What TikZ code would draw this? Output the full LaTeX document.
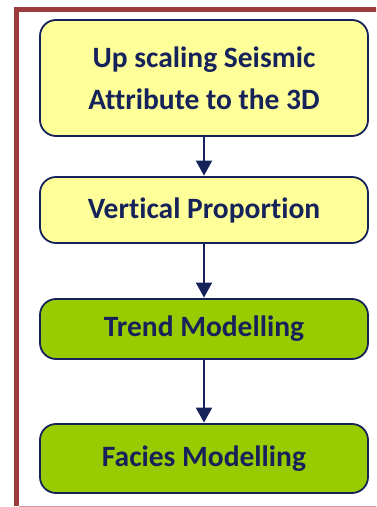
\documentclass[tikz,border=0pt]{standalone}
\usepackage{fontspec}
\setmainfont{Carlito}[Ligatures=NoCommon]
\usetikzlibrary{arrows.meta}
\definecolor{framered}{HTML}{9B3B3B}
\definecolor{framelight}{HTML}{D49A9A}
\definecolor{navy}{HTML}{16235A}
\definecolor{boxyellow}{HTML}{FFFF99}
\definecolor{boxgreen}{HTML}{99CC00}
\tikzset{
  procbox/.style={draw=navy, line width=1.8pt, rounded corners=16pt,
    minimum width=328pt, text=navy, align=center, inner sep=0pt,
    font=\fontsize{29.5}{42}\selectfont\bfseries},
  flowarrow/.style={draw=navy, line width=2pt,
    -{Triangle[length=15pt,width=16pt]}, shorten >=0.5pt}
}
\begin{document}
\begin{tikzpicture}[x=1pt,y=1pt]
\useasboundingbox (0,0) rectangle (376,507);
\begin{scope}
\clip (0,0) rectangle (376,507);
\draw[framered, line width=5pt] (16.5,1) -- (16.5,497.5) -- (400,497.5);
\end{scope}
\coordinate (bl) at (19,0.7);
\coordinate (br) at (376,0.7);
\draw[framelight, line width=1.2pt] (bl) -- (br);
% boxes (y measured from top: 507 - y)
\node[procbox, fill=boxyellow, minimum height=116pt] (b1) at (204,507-78) {Up scaling Seismic\\Attribute to the 3D};
\node[procbox, fill=boxyellow, minimum height=66pt] (b2) at (204,507-210) {Vertical Proportion};
\node[procbox, fill=boxgreen, minimum height=60pt] (b3) at (204,507-329) {Trend Modelling};
\node[procbox, fill=boxgreen, minimum height=69pt] (b4) at (204,507-458.5) {Facies Modelling};
\draw[flowarrow] (b1) -- (b2);
\draw[flowarrow] (b2) -- (b3);
\draw[flowarrow] (b3) -- (b4);
\end{tikzpicture}
\end{document}
